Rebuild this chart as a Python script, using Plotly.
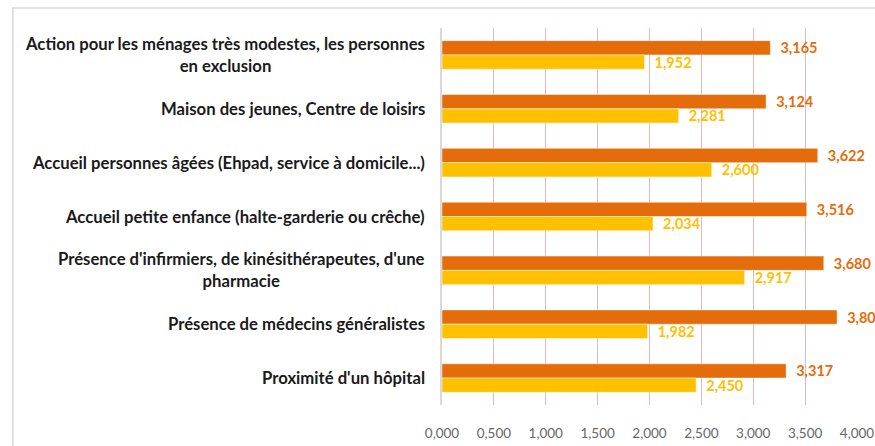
import plotly.graph_objects as go

categories = [
    "Action pour les ménages très modestes, les personnes<br>en exclusion",
    "Maison des jeunes, Centre de loisirs",
    "Accueil personnes âgées (Ehpad, service à domicile...)",
    "Accueil petite enfance (halte-garderie ou crêche)",
    "Présence d'infirmiers, de kinésithérapeutes, d'une<br>pharmacie",
    "Présence de médecins généralistes",
    "Proximité d'un hôpital",
]
importance = [3.165, 3.124, 3.622, 3.516, 3.680, 3.808, 3.317]
satisfaction = [1.952, 2.281, 2.600, 2.034, 2.917, 1.982, 2.450]
x_ticks = [0, 0.5, 1, 1.5, 2, 2.5, 3, 3.5, 4]

ORANGE = "#E46C0A"
YELLOW = "#FFC000"
FONT = "Lato, 'Open Sans', sans-serif"

fig = go.Figure()
for values, color in [(importance, ORANGE), (satisfaction, YELLOW)]:
    fig.add_trace(
        go.Bar(
            y=categories,
            x=values,
            orientation="h",
            marker=dict(color=color, line=dict(color="rgba(255,255,255,0.6)", width=0.8)),
            text=values,
            texttemplate="\u00a0\u00a0%{x:.3f}",
            textposition="outside",
            constraintext="none",
            textfont=dict(color=color, size=14.5, family=FONT, weight="bold"),
            cliponaxis=False,
            showlegend=False,
        )
    )

# category labels, centred lines like the original
for cat in categories:
    fig.add_annotation(
        x=0, y=cat, xref="paper", yref="y",
        text=f"<b>{cat}</b>", showarrow=False,
        xanchor="right", align="center", xshift=-15,
        font=dict(size=16.7, color="#1a1a1a", family=FONT),
    )

# outer chart frame
fig.add_shape(
    type="rect", xref="paper", yref="paper",
    x0=-1.034, x1=1.3, y0=-0.3, y1=1.053,
    line=dict(color="#D9D9D9", width=1.5), layer="below",
)

fig.update_layout(
    width=875,
    height=446,
    margin=dict(l=442, r=18, t=28, b=41),
    paper_bgcolor="white",
    plot_bgcolor="white",
    separators=", ",
    barmode="group",
    bargap=0.47,
    bargroupgap=0,
    font=dict(family=FONT),
    xaxis=dict(
        range=[0, 4.0],
        tickvals=x_ticks,
        tickformat=".3f",
        tickfont=dict(size=13.5, color="#666666", family=FONT),
        showgrid=True,
        gridcolor="#E6B9B8",
        gridwidth=1,
        zeroline=False,
        showline=False,
        ticklabelstandoff=18,
        automargin=False,
    ),
    yaxis=dict(
        autorange="reversed",
        showticklabels=False,
        showline=True,
        linecolor="#D9D9D9",
        linewidth=1.5,
        ticks="",
        automargin=False,
    ),
)

# drop the browser's default 8px body margin so the figure fills the window
fig.write_html(
    "out.html",
    config={"displayModeBar": False},
    post_script="document.body.style.margin = '0';",
)
